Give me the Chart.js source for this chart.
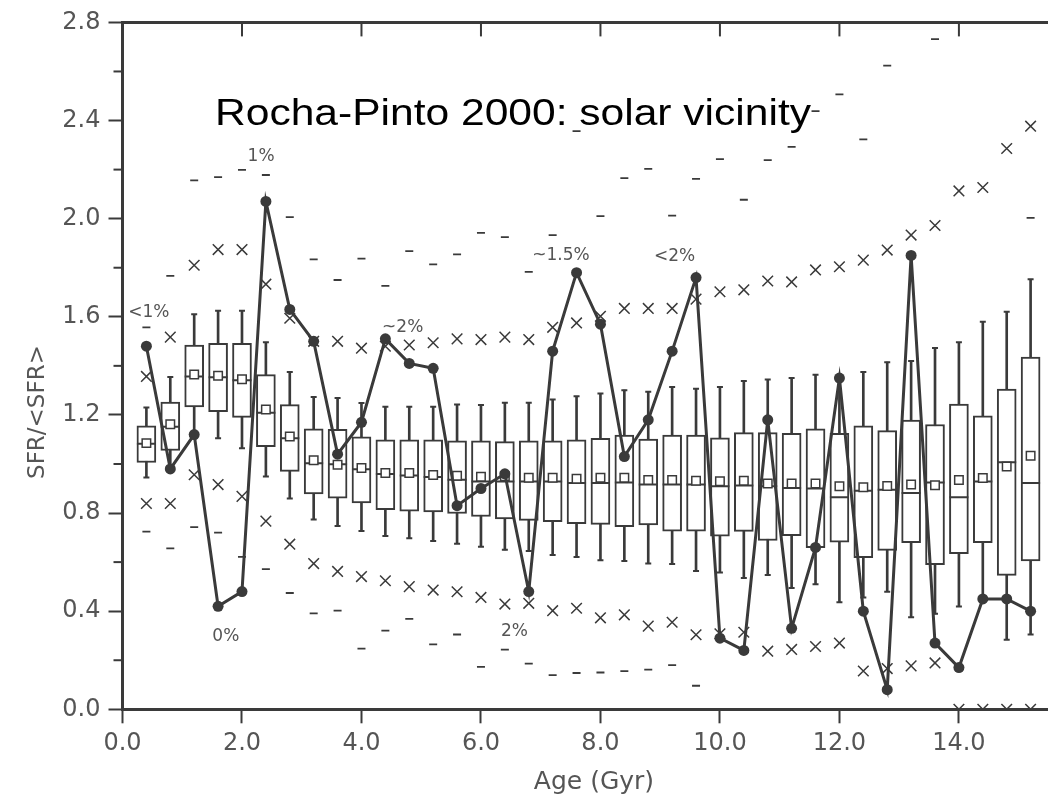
<!DOCTYPE html>
<html>
<head>
<meta charset="utf-8">
<title>SFR history - solar vicinity</title>
<script src="https://cdn.jsdelivr.net/npm/chart.js@4.4.0/dist/chart.umd.min.js"></script>
<style>
  html, body { margin: 0; padding: 0; background: #fff; overflow: hidden; }
  #wrap { position: relative; width: 1066px; height: 803px; }
</style>
</head>
<body>
<div id="wrap"><canvas id="sfrChart"></canvas></div>
<script>
// Age bins (Gyr)
const ages = [0.4, 0.8, 1.2, 1.6, 2.0, 2.4, 2.8, 3.2, 3.6, 4.0,
              4.4, 4.8, 5.2, 5.6, 6.0, 6.4, 6.8, 7.2, 7.6, 8.0,
              8.4, 8.8, 9.2, 9.6, 10.0, 10.4, 10.8, 11.2, 11.6, 12.0,
              12.4, 12.8, 13.2, 13.6, 14.0, 14.4, 14.8, 15.2];

// Observed SFR/<SFR> (line with dots)
const sfr = [1.48, 0.98, 1.12, 0.42, 0.48, 2.07, 1.63, 1.50, 1.04, 1.17,
             1.51, 1.41, 1.39, 0.83, 0.90, 0.96, 0.48, 1.46, 1.78, 1.57,
             1.03, 1.18, 1.46, 1.76, 0.29, 0.24, 1.18, 0.33, 0.66, 1.35,
             0.40, 0.08, 1.85, 0.27, 0.17, 0.45, 0.45, 0.40];

// Box plots of the constant-SFR simulations
const boxTop = [1.156, 1.252, 1.485, 1.492, 1.492, 1.364, 1.242, 1.143, 1.141, 1.111,
                1.098, 1.098, 1.098, 1.094, 1.094, 1.091, 1.094, 1.094, 1.098, 1.105,
                1.118, 1.102, 1.118, 1.118, 1.107, 1.128, 1.128, 1.125, 1.143, 1.125,
                1.156, 1.136, 1.179, 1.161, 1.244, 1.196, 1.305, 1.436];
const boxBottom = [1.006, 1.055, 1.233, 1.213, 1.190, 1.071, 0.970, 0.878, 0.861, 0.841,
                   0.814, 0.808, 0.805, 0.798, 0.786, 0.776, 0.770, 0.765, 0.757, 0.754,
                   0.744, 0.752, 0.726, 0.726, 0.706, 0.725, 0.688, 0.708, 0.659, 0.681,
                   0.618, 0.648, 0.679, 0.590, 0.634, 0.679, 0.546, 0.605];
const medians = [1.082, 1.152, 1.357, 1.354, 1.341, 1.209, 1.105, 1.003, 0.999, 0.979,
                 0.959, 0.953, 0.947, 0.936, 0.929, 0.929, 0.929, 0.929, 0.922, 0.922,
                 0.925, 0.916, 0.916, 0.916, 0.909, 0.912, 0.909, 0.902, 0.900, 0.864,
                 0.891, 0.895, 0.882, 0.925, 0.864, 0.929, 1.007, 0.922];
const means = [1.085, 1.162, 1.365, 1.360, 1.345, 1.222, 1.112, 1.015, 0.997, 0.984,
               0.963, 0.963, 0.955, 0.952, 0.948, 0.950, 0.944, 0.944, 0.940, 0.944,
               0.944, 0.935, 0.935, 0.932, 0.930, 0.932, 0.920, 0.920, 0.920, 0.909,
               0.905, 0.910, 0.916, 0.913, 0.935, 0.943, 0.990, 1.034];
const whiskerHi = [1.230, 1.355, 1.610, 1.625, 1.625, 1.496, 1.375, 1.273, 1.269, 1.249,
                   1.233, 1.233, 1.233, 1.242, 1.240, 1.250, 1.250, 1.263, 1.276, 1.287,
                   1.301, 1.294, 1.314, 1.307, 1.314, 1.338, 1.344, 1.350, 1.364, 1.360,
                   1.375, 1.415, 1.420, 1.473, 1.496, 1.580, 1.621, 1.753];
const whiskerLo = [0.945, 0.985, 1.105, 1.105, 1.064, 0.949, 0.859, 0.774, 0.747, 0.727,
                   0.706, 0.697, 0.686, 0.675, 0.663, 0.650, 0.645, 0.629, 0.621, 0.608,
                   0.605, 0.594, 0.592, 0.564, 0.558, 0.535, 0.547, 0.494, 0.510, 0.436,
                   0.456, 0.479, 0.375, 0.389, 0.419, 0.440, 0.284, 0.305];

// Outer percentiles: crosses and dashes
const upperX = [1.357, 1.517, 1.810, 1.874, 1.874, 1.733, 1.594, 1.500, 1.500, 1.472,
                1.480, 1.485, 1.494, 1.510, 1.507, 1.517, 1.507, 1.557, 1.575, 1.602,
                1.634, 1.634, 1.634, 1.672, 1.702, 1.710, 1.746, 1.742, 1.791, 1.804,
                1.831, 1.872, 1.933, 1.972, 2.113, 2.127, 2.286, 2.377];
const lowerX = [0.839, 0.839, 0.956, 0.916, 0.868, 0.767, 0.673, 0.594, 0.562, 0.541,
                0.524, 0.500, 0.486, 0.479, 0.456, 0.429, 0.432, 0.402, 0.412, 0.373,
                0.385, 0.339, 0.355, 0.304, 0.308, 0.314, 0.237, 0.244, 0.256, 0.270,
                0.156, 0.166, 0.177, 0.189, 0.0, 0.0, 0.0, 0.0];
const upperDash = [1.557, 1.767, 2.156, 2.169, 2.199, 2.178, 2.006, 1.834, 1.750, 1.837,
                   1.726, 1.868, 1.814, 1.854, 1.942, 1.925, 1.783, 1.933, 2.357, 2.010,
                   2.165, 2.203, 2.012, 2.162, 2.243, 2.077, 2.239, 2.293, 2.438, 2.507,
                   2.323, 2.624, null, 2.732, null, null, null, 2.003];
const lowerDash = [0.724, 0.656, 0.743, 0.720, 0.621, 0.571, 0.474, 0.391, 0.402, 0.247,
                   0.321, 0.369, 0.265, 0.305, 0.173, 0.243, 0.186, 0.139, 0.148, 0.150,
                   0.156, 0.162, 0.180, 0.096, null, null, null, null, null, null,
                   null, null, null, null, null, null, null, null];

// Tick values
const xTicks = [0, 2, 4, 6, 8, 10, 12, 14];
const yTicks = [0, 0.4, 0.8, 1.2, 1.6, 2.0, 2.4, 2.8];
const yMinorTicks = [0.2, 0.6, 1.0, 1.4, 1.8, 2.2, 2.6];

// Percent notes placed at (age, SFR)
const notes = [
    { text: '<1%', age: 0.44, value: 1.618 },
    { text: '1%', age: 2.32, value: 2.254 },
    { text: '0%', age: 1.73, value: 0.297 },
    { text: '~2%', age: 4.69, value: 1.557 },
    { text: '~1.5%', age: 7.34, value: 1.849 },
    { text: '<2%', age: 9.24, value: 1.845 },
    { text: '2%', age: 6.56, value: 0.317 }
];

const ink = '#3a3a3a';
const grey = '#555555';

const pts = arr => ages.map((a, i) => ({ x: a, y: arr[i] }));
const spans = (lo, hi) => ages.map((a, i) => ({ x: a, y: [lo[i], hi[i]] }));

const markerSet = (data, style, radius, width, order) => ({
    type: 'line',
    data: data,
    showLine: false,
    pointStyle: style,
    pointRadius: radius,
    borderColor: ink,
    pointBorderColor: ink,
    pointBackgroundColor: ink,
    pointBorderWidth: width,
    order: order
});

// Frame, minor ticks, title and notes
const decorations = {
    id: 'decorations',
    afterDraw(chart) {
        const { ctx, chartArea, scales } = chart;
        const xs = scales.x, ys = scales.y;
        ctx.save();
        ctx.strokeStyle = ink;

        // top frame with inward ticks
        ctx.lineWidth = 3;
        ctx.beginPath();
        ctx.moveTo(chartArea.left - 1.5, chartArea.top);
        ctx.lineTo(chartArea.right, chartArea.top);
        ctx.stroke();
        ctx.lineWidth = 2;
        xTicks.slice(1).forEach(t => {
            const px = xs.getPixelForValue(t);
            ctx.beginPath();
            ctx.moveTo(px, chartArea.top);
            ctx.lineTo(px, chartArea.top + 14);
            ctx.stroke();
        });

        // minor y ticks
        yMinorTicks.forEach(t => {
            const py = ys.getPixelForValue(t);
            ctx.beginPath();
            ctx.moveTo(chartArea.left - 9, py);
            ctx.lineTo(chartArea.left, py);
            ctx.stroke();
        });

        // percent notes
        ctx.fillStyle = grey;
        ctx.font = '17px "DejaVu Sans"';
        ctx.textAlign = 'center';
        ctx.textBaseline = 'middle';
        notes.forEach(n => {
            ctx.fillText(n.text, xs.getPixelForValue(n.age), ys.getPixelForValue(n.value));
        });

        // axis titles
        ctx.font = '25px "DejaVu Sans"';
        ctx.textBaseline = 'alphabetic';
        ctx.fillText('Age (Gyr)', 594, 789);
        ctx.font = '23px "DejaVu Sans"';
        ctx.save();
        ctx.translate(44, 412);
        ctx.rotate(-Math.PI / 2);
        ctx.fillText('SFR/<SFR>', 0, 0);
        ctx.restore();

        // title inside plot
        const title = 'Rocha-Pinto 2000: solar vicinity';
        ctx.font = '37px "Liberation Sans"';
        ctx.fillStyle = '#000';
        ctx.textAlign = 'left';
        const w = ctx.measureText(title).width;
        ctx.translate(215, 125);
        ctx.scale(596 / w, 1);
        ctx.fillText(title, 0, 0);
        ctx.restore();
    }
};

const ctx = document.getElementById('sfrChart').getContext('2d');
new Chart(ctx, {
    type: 'bar',
    data: {
        datasets: [
            {
                type: 'line',
                data: pts(sfr),
                borderColor: ink,
                borderWidth: 3,
                pointRadius: 5.5,
                pointBackgroundColor: ink,
                pointBorderColor: ink,
                pointBorderWidth: 0,
                tension: 0,
                order: 0
            },
            {
                type: 'line',
                data: pts(means),
                showLine: false,
                pointStyle: 'rect',
                pointRadius: 6,
                borderColor: ink,
                pointBorderColor: ink,
                pointBackgroundColor: '#fff',
                pointBorderWidth: 1.5,
                order: 1
            },
            markerSet(pts(medians), 'line', 9.5, 2, 2),
            {
                type: 'bar',
                data: spans(boxBottom, boxTop),
                backgroundColor: '#fff',
                borderColor: ink,
                borderWidth: 2,
                borderSkipped: false,
                barThickness: 19,
                grouped: false,
                order: 3
            },
            markerSet(pts(whiskerHi), 'line', 3, 2, 4),
            markerSet(pts(whiskerLo), 'line', 3, 2, 4),
            {
                type: 'bar',
                data: spans(whiskerLo, whiskerHi),
                backgroundColor: ink,
                borderWidth: 0,
                barThickness: 2,
                grouped: false,
                order: 5
            },
            markerSet(pts(upperX), 'crossRot', 7.5, 1.5, 6),
            markerSet(pts(lowerX), 'crossRot', 7.5, 1.5, 6),
            markerSet(pts(upperDash), 'line', 4, 1.8, 7),
            markerSet(pts(lowerDash), 'line', 4, 1.8, 7)
        ]
    },
    options: {
        responsive: true,
        maintainAspectRatio: false,
        animation: false,
        events: [],
        layout: { padding: { top: 18.3, left: 0, right: 0, bottom: 0 } },
        plugins: {
            legend: { display: false },
            tooltip: { enabled: false }
        },
        scales: {
            x: {
                type: 'linear',
                min: 0,
                max: 15.6,
                offset: false,
                afterFit: scale => { scale.height = 93.7; },
                afterBuildTicks: scale => { scale.ticks = xTicks.map(v => ({ value: v })); },
                ticks: {
                    callback: v => v.toFixed(1),
                    color: grey,
                    font: { family: 'DejaVu Sans', size: 24 },
                    padding: 6,
                    maxRotation: 0
                },
                grid: { drawOnChartArea: false, offset: false, tickLength: 14, tickWidth: 2, tickColor: ink },
                border: { color: ink, width: 3 }
            },
            y: {
                min: 0,
                max: 2.8,
                afterFit: scale => { scale.width = 122.5; },
                afterBuildTicks: scale => { scale.ticks = yTicks.map(v => ({ value: v })); },
                ticks: {
                    callback: v => v.toFixed(1),
                    color: grey,
                    font: { family: 'DejaVu Sans', size: 24 },
                    padding: 8
                },
                grid: { drawOnChartArea: false, tickLength: 14, tickWidth: 2, tickColor: ink },
                border: { color: ink, width: 3 }
            }
        }
    },
    plugins: [decorations]
});
</script>
</body>
</html>
